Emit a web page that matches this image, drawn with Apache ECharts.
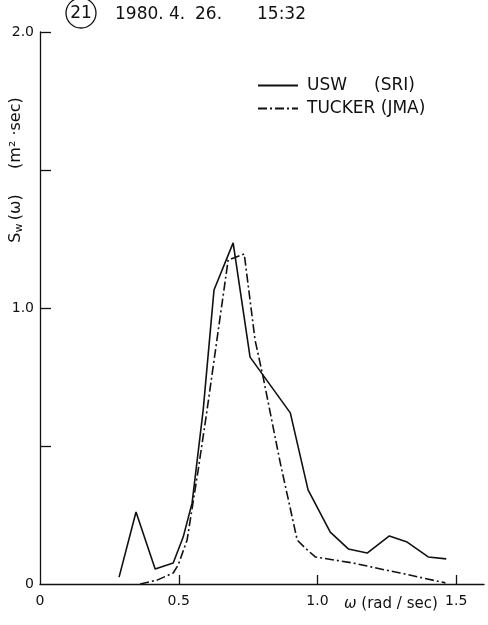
<!DOCTYPE html>
<html>
<head>
<meta charset="utf-8">
<script src="https://cdn.jsdelivr.net/npm/echarts@6/dist/echarts.min.js"></script>
<style>
html,body{margin:0;padding:0;background:#fff;}
#chart{width:488px;height:625px;}
</style>
</head>
<body>
<div id="chart"></div>
<script>
// Data (omega in rad/sec, Sw in m^2·sec)
var uswOmega  = [0.285, 0.346, 0.415, 0.480, 0.516, 0.548, 0.588, 0.627, 0.696, 0.757, 0.902, 0.966, 1.046, 1.111, 1.179, 1.259, 1.323, 1.399, 1.464];
var uswSw     = [0.025, 0.261, 0.054, 0.076, 0.170, 0.293, 0.630, 1.065, 1.236, 0.822, 0.620, 0.341, 0.188, 0.127, 0.112, 0.174, 0.152, 0.098, 0.091];
var tuckOmega = [0.361, 0.422, 0.480, 0.498, 0.530, 0.570, 0.602, 0.678, 0.736, 0.775, 0.804, 0.866, 0.927, 0.956, 0.992, 1.129, 1.262, 1.298, 1.461];
var tuckSw    = [0.000, 0.014, 0.040, 0.069, 0.159, 0.413, 0.630, 1.174, 1.196, 0.884, 0.750, 0.438, 0.159, 0.130, 0.098, 0.076, 0.047, 0.040, 0.004];
var xTickValues = [0, 0.5, 1.0, 1.5];
var xTickLabels = ['0', '0.5', '1.0', '1.5'];
var yTickValues = [0.5, 1.0, 1.5, 2.0];
var yLabelValues = [0, 1.0, 2.0];
var yTickLabels = ['0', '1.0', '2.0'];
var seriesNames = ['USW     (SRI)', 'TUCKER (JMA)'];
var titleNo = '21';
var titleParts = ['1980.', '4.', '26.', '15:32'];

function zip(a, b) { return a.map(function (v, i) { return [v, b[i]]; }); }

var FONT = 'DejaVu Sans';
var titleX = [115, 169, 195, 257];
var graphics = [
  {type: 'circle', shape: {cx: 81, cy: 13, r: 15}, style: {fill: 'none', stroke: '#111', lineWidth: 1.3}},
  {type: 'text', x: 81, y: 14, style: {text: titleNo, fontFamily: FONT, fontSize: 17, fill: '#111', align: 'center', verticalAlign: 'middle'}},
  {type: 'text', x: 16, y: 170, rotation: Math.PI / 2,
    style: {
      text: '{s|S}{w|w} {s|(ω)     (m² ·sec)}',
      rich: {s: {fontFamily: FONT, fontSize: 16, fill: '#111'}, w: {fontFamily: FONT, fontSize: 11, fill: '#111', padding: [7, 0, 0, 0]}},
      align: 'center', verticalAlign: 'middle'
    }},
  {type: 'text', x: 344, y: 604, style: {text: '{o|ω} (rad / sec)', rich: {o: {fontFamily: FONT, fontStyle: 'italic', fontSize: 15, fill: '#111'}}, fontFamily: FONT, fontSize: 15, fill: '#111', align: 'left', verticalAlign: 'middle'}}
];
titleParts.forEach(function (t, i) {
  graphics.push({type: 'text', x: titleX[i], y: 15, style: {text: t, fontFamily: FONT, fontSize: 17, fill: '#111', align: 'left', verticalAlign: 'middle'}});
});

var chart = echarts.init(document.getElementById('chart'), null, {renderer: 'canvas'});
chart.setOption({
  animation: false,
  backgroundColor: '#fff',
  grid: {left: 40, right: 4, top: 32, bottom: 41, containLabel: false},
  legend: {
    orient: 'vertical', left: 252, top: 72,
    itemWidth: 40, itemHeight: 14, itemGap: 6,
    itemStyle: {opacity: 0},
    textStyle: {fontFamily: FONT, fontSize: 17, color: '#111', padding: [0, 0, 0, 4]},
    data: seriesNames
  },
  xAxis: {
    type: 'value', min: 0, max: 1.6,
    axisLine: {show: true, onZero: false, lineStyle: {color: '#111', width: 1.3}},
    axisTick: {show: true, inside: true, length: 9, customValues: [0.5, 1.0, 1.5], lineStyle: {color: '#111', width: 1.3}},
    axisLabel: {
      customValues: xTickValues,
      fontFamily: FONT, fontSize: 14, color: '#111', margin: 10,
      formatter: function (v) { var i = xTickValues.indexOf(v); return i >= 0 ? xTickLabels[i] : ''; }
    },
    splitLine: {show: false}
  },
  yAxis: {
    type: 'value', min: 0, max: 2.0,
    axisLine: {show: true, onZero: false, lineStyle: {color: '#111', width: 1.3}},
    axisTick: {show: true, inside: true, length: 11, customValues: yTickValues, lineStyle: {color: '#111', width: 1.3}},
    axisLabel: {
      customValues: yLabelValues,
      fontFamily: FONT, fontSize: 14, color: '#111', margin: 6,
      formatter: function (v) { var i = yLabelValues.indexOf(v); return i >= 0 ? yTickLabels[i] : ''; }
    },
    splitLine: {show: false}
  },
  series: [
    {
      name: seriesNames[0], type: 'line', data: zip(uswOmega, uswSw),
      symbol: 'none', smooth: false,
      lineStyle: {color: '#111', width: 1.6, type: 'solid'},
      itemStyle: {color: '#111'}
    },
    {
      name: seriesNames[1], type: 'line', data: zip(tuckOmega, tuckSw),
      symbol: 'none', smooth: false,
      lineStyle: {color: '#111', width: 1.6, type: [9, 3, 2, 3]},
      itemStyle: {color: '#111'}
    }
  ],
  graphic: graphics
});
</script>
</body>
</html>
